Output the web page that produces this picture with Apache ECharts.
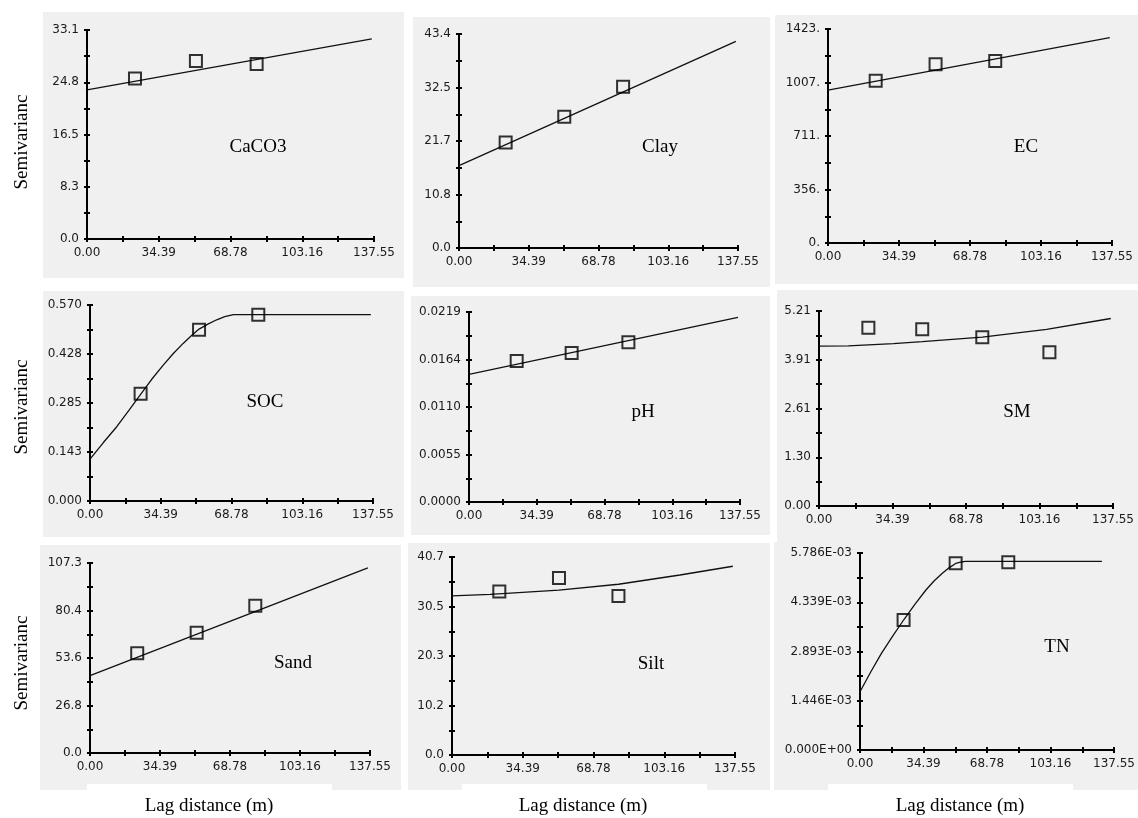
<!DOCTYPE html>
<html>
<head>
<meta charset="utf-8">
<title>Semivariograms</title>
<script src="https://cdn.jsdelivr.net/npm/echarts@6/dist/echarts.min.js"></script>
<style>
  html, body { margin: 0; padding: 0; background: #ffffff; }
  #chart { width: 1138px; height: 818px; }
</style>
</head>
<body>
<div id="chart"></div>
<script>
// Lag distance axis (shared by every panel)
const xMax = 137.55;
const xTickLabels = ['0.00', '34.39', '68.78', '103.16', '137.55'];

// CaCO3
const caco3Lag = [23.0, 52.2, 81.3];
const caco3Gamma = [25.4, 28.2, 27.7];
const caco3ModelLag = [0, 136.5];
const caco3ModelGamma = [23.6, 31.7];
const caco3Ticks = ['0.0', '8.3', '16.5', '24.8', '33.1'];

// Clay
const clayLag = [23.0, 51.9, 80.9];
const clayGamma = [21.4, 26.6, 32.7];
const clayModelLag = [0, 136.5];
const clayModelGamma = [16.7, 41.9];
const clayTicks = ['0.0', '10.8', '21.7', '32.5', '43.4'];

// EC
const ecLag = [23.1, 52.1, 81.0];
const ecGamma = [1079, 1188, 1210];
const ecModelLag = [0, 136.5];
const ecModelGamma = [1017, 1365];
const ecTicks = ['0.', '356.', '711.', '1007.', '1423.'];

// SOC
const socLag = [24.6, 53.0, 81.8];
const socGamma = [0.312, 0.498, 0.542];
const socModelLag = [0, 6.5, 13.0, 19.0, 24.6, 30.0, 35.6, 40.5, 45.4, 49.5, 53.0, 57.5, 61.6, 65.5, 69.7, 136.5];
const socModelGamma = [0.122, 0.170, 0.216, 0.264, 0.310, 0.354, 0.395, 0.429, 0.459, 0.482, 0.500, 0.515, 0.527, 0.536, 0.542, 0.542];
const socTicks = ['0.000', '0.143', '0.285', '0.428', '0.570'];

// pH
const phLag = [24.2, 52.1, 80.9];
const phGamma = [0.01625, 0.01717, 0.01841];
const phModelLag = [0, 136.5];
const phModelGamma = [0.01472, 0.02128];
const phTicks = ['0.0000', '0.0055', '0.0110', '0.0164', '0.0219'];

// SM
const smLag = [23.1, 48.3, 76.4, 107.8];
const smGamma = [4.76, 4.72, 4.51, 4.11];
const smModelLag = [0, 13.7, 34.8, 48.3, 76.4, 106.5, 136.5];
const smModelGamma = [4.27, 4.28, 4.34, 4.39, 4.51, 4.72, 5.01];
const smTicks = ['0.00', '1.30', '2.61', '3.91', '5.21'];

// Sand
const sandLag = [23.2, 52.4, 81.2];
const sandGamma = [56.3, 67.9, 83.2];
const sandModelLag = [0, 136.5];
const sandModelGamma = [43.7, 104.6];
const sandTicks = ['0.0', '26.8', '53.6', '80.4', '107.3'];

// Silt
const siltLag = [23.0, 52.0, 80.9];
const siltGamma = [33.6, 36.4, 32.7];
const siltModelLag = [0, 18.5, 52.0, 80.9, 110.8, 136.5];
const siltModelGamma = [32.7, 33.0, 33.9, 35.1, 37.0, 38.8];
const siltTicks = ['0.0', '10.2', '20.3', '30.5', '40.7'];

// TN
const tnLag = [23.6, 51.8, 80.3];
const tnGamma = [0.003818, 0.005483, 0.005513];
const tnModelLag = [0, 5.8, 11.6, 17.6, 23.6, 29.7, 35.7, 40.2, 44.6, 48.2, 51.8, 54.5, 57.1, 131.0];
const tnModelGamma = [0.001712, 0.00229, 0.00284, 0.00334, 0.003818, 0.00428, 0.004699, 0.00497, 0.00519, 0.00535, 0.00548, 0.00552, 0.005542, 0.005542];
const tnTicks = ['0.000E+00', '1.446E-03', '2.893E-03', '4.339E-03', '5.786E-03'];

// Panel layout: plot box, grey backdrop and label position
const panels = [
    { name: 'CaCO3', lag: caco3Lag, gamma: caco3Gamma, mLag: caco3ModelLag, mGamma: caco3ModelGamma, ticks: caco3Ticks, yMax: 33.1,
      grid: [87, 30, 287, 209], bg: [43, 12, 361, 266], label: [258, 147] },
    { name: 'Clay', lag: clayLag, gamma: clayGamma, mLag: clayModelLag, mGamma: clayModelGamma, ticks: clayTicks, yMax: 43.4,
      grid: [459, 34, 279, 214], bg: [413, 17, 357, 270], label: [660, 147] },
    { name: 'EC', lag: ecLag, gamma: ecGamma, mLag: ecModelLag, mGamma: ecModelGamma, ticks: ecTicks, yMax: 1423,
      grid: [828, 29, 284, 214], bg: [775, 15, 363, 269], label: [1026, 147] },
    { name: 'SOC', lag: socLag, gamma: socGamma, mLag: socModelLag, mGamma: socModelGamma, ticks: socTicks, yMax: 0.570,
      grid: [90, 305, 283, 196], bg: [43, 291, 361, 246], label: [265, 402] },
    { name: 'pH', lag: phLag, gamma: phGamma, mLag: phModelLag, mGamma: phModelGamma, ticks: phTicks, yMax: 0.0219,
      grid: [469, 312, 271, 190], bg: [411, 296, 359, 239], label: [643, 412] },
    { name: 'SM', lag: smLag, gamma: smGamma, mLag: smModelLag, mGamma: smModelGamma, ticks: smTicks, yMax: 5.21,
      grid: [819, 311, 294, 195], bg: [777, 290, 361, 252], label: [1017, 412] },
    { name: 'Sand', lag: sandLag, gamma: sandGamma, mLag: sandModelLag, mGamma: sandModelGamma, ticks: sandTicks, yMax: 107.3,
      grid: [90, 563, 280, 190], bg: [40, 545, 361, 245], label: [293, 663] },
    { name: 'Silt', lag: siltLag, gamma: siltGamma, mLag: siltModelLag, mGamma: siltModelGamma, ticks: siltTicks, yMax: 40.7,
      grid: [452, 557, 283, 198], bg: [408, 543, 362, 247], label: [651, 664] },
    { name: 'TN', lag: tnLag, gamma: tnGamma, mLag: tnModelLag, mGamma: tnModelGamma, ticks: tnTicks, yMax: 0.005786,
      grid: [860, 553, 257, 197], bg: [774, 542, 364, 248], label: [1057, 647] }
];

const chart = echarts.init(document.getElementById('chart'));

const tickFont = { fontFamily: 'DejaVu Sans', fontSize: 12, color: '#1a1a1a' };
const serif = 'Liberation Serif';
const tickLine = { color: '#000', width: 2 };

var grids = [], xAxes = [], yAxes = [], series = [], graphics = [];

panels.forEach(function (p, i) {
    grids.push({ left: p.grid[0], top: p.grid[1], width: p.grid[2], height: p.grid[3], containLabel: false });

    const xInt = xMax / 4;
    const yInt = p.yMax / 4;

    // outer ticks + labels, then a second axis for the inner half of each tick
    xAxes.push({
        gridIndex: i, type: 'value', position: 'bottom', min: 0, max: xMax, interval: xInt,
        axisLine: { onZero: false, lineStyle: { color: '#000', width: 2 } },
        axisTick: { length: 3, lineStyle: tickLine },
        minorTick: { show: true, splitNumber: 2, length: 3, lineStyle: tickLine },
        axisLabel: Object.assign({ margin: 8, formatter: function (v) { return xTickLabels[Math.round(v / xInt)]; } }, tickFont),
        splitLine: { show: false }
    });
    xAxes.push({
        gridIndex: i, type: 'value', position: 'bottom', min: 0, max: xMax, interval: xInt,
        axisLine: { show: false, onZero: false },
        axisTick: { inside: true, length: 3, lineStyle: tickLine },
        minorTick: { show: true, splitNumber: 2, length: 3, lineStyle: tickLine },
        axisLabel: { show: false },
        splitLine: { show: false }
    });
    yAxes.push({
        gridIndex: i, type: 'value', position: 'left', min: 0, max: p.yMax, interval: yInt,
        axisLine: { show: true, onZero: false, lineStyle: { color: '#000', width: 2 } },
        axisTick: { show: true, length: 3, lineStyle: tickLine },
        minorTick: { show: true, splitNumber: 2, length: 3, lineStyle: tickLine },
        axisLabel: Object.assign({ margin: 8, formatter: function (v) { return p.ticks[Math.round(v / yInt)]; } }, tickFont),
        splitLine: { show: false }
    });
    yAxes.push({
        gridIndex: i, type: 'value', position: 'left', min: 0, max: p.yMax, interval: yInt,
        axisLine: { show: false, onZero: false },
        axisTick: { show: true, inside: true, length: 3, lineStyle: tickLine },
        minorTick: { show: true, splitNumber: 2, length: 3, lineStyle: tickLine },
        axisLabel: { show: false },
        splitLine: { show: false }
    });

    // fitted model
    series.push({
        type: 'line', xAxisIndex: 2 * i, yAxisIndex: 2 * i,
        data: p.mLag.map(function (x, k) { return [x, p.mGamma[k]]; }),
        showSymbol: false, smooth: false,
        lineStyle: { color: '#111', width: 1.3 },
        silent: true, z: 3
    });
    // experimental semivariances
    series.push({
        type: 'scatter', xAxisIndex: 2 * i, yAxisIndex: 2 * i,
        data: p.lag.map(function (x, k) { return [x, p.gamma[k]]; }),
        symbol: 'rect', symbolSize: 12,
        itemStyle: { color: 'rgba(0,0,0,0)', borderColor: '#000', borderWidth: 2 },
        z: 4
    });

    // grey backdrop of each panel
    graphics.push({
        type: 'rect', z: -10, silent: true,
        shape: { x: p.bg[0], y: p.bg[1], width: p.bg[2], height: p.bg[3] },
        style: { fill: '#f0f0f0' }
    });
    graphics.push({
        type: 'text', z: 10, silent: true,
        style: { x: p.label[0], y: p.label[1], text: p.name, textAlign: 'center', textVerticalAlign: 'middle',
                 font: '19px "' + serif + '"', fill: '#000' }
    });
});

// y titles on the left of each row
[142, 407, 663].forEach(function (cy) {
    graphics.push({
        type: 'text', z: 10, silent: true, rotation: Math.PI / 2, x: 22, y: cy,
        style: { x: 0, y: 0, text: 'Semivarianc', textAlign: 'center', textVerticalAlign: 'middle',
                 font: '19px "' + serif + '"', fill: '#000' }
    });
});

// x titles under each column, on small white boxes
[[87, 332, 209], [462, 707, 583], [828, 1073, 960]].forEach(function (c) {
    graphics.push({
        type: 'rect', z: -5, silent: true,
        shape: { x: c[0], y: 784, width: c[1] - c[0], height: 34 },
        style: { fill: '#ffffff' }
    });
    graphics.push({
        type: 'text', z: 10, silent: true,
        style: { x: c[2], y: 806, text: 'Lag distance (m)', textAlign: 'center', textVerticalAlign: 'middle',
                 font: '19px "' + serif + '"', fill: '#000' }
    });
});

var option = {
    backgroundColor: '#ffffff',
    animation: false,
    grid: grids,
    xAxis: xAxes,
    yAxis: yAxes,
    series: series,
    graphic: graphics
};

chart.setOption(option);
</script>
</body>
</html>
